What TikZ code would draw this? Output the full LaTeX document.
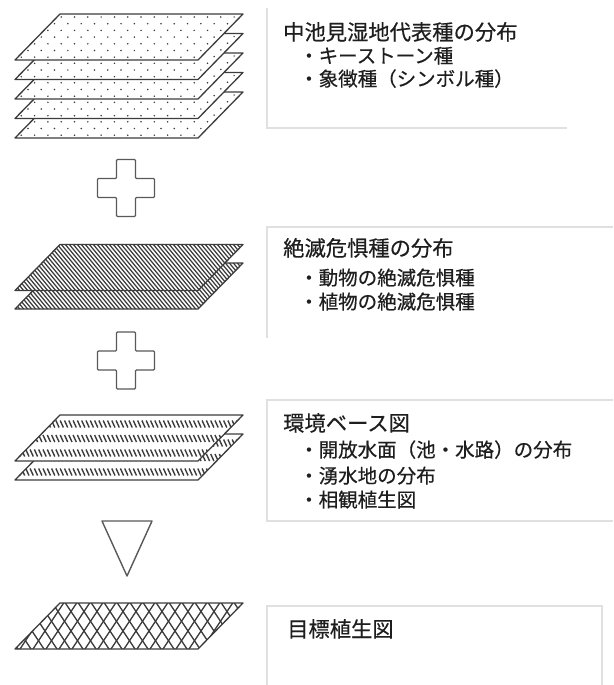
\documentclass[tikz,border=0pt]{standalone}
\usepackage{fontspec}
\newfontfamily\jp[FakeBold=0.4]{Noto Sans CJK JP}
\definecolor{edge}{HTML}{3C3C3C}
\definecolor{boxline}{HTML}{E0E0E0}
\definecolor{ink}{HTML}{1E1E1E}
\tikzset{
  sheetline/.style={draw=edge, line width=1.3pt, line join=round},
  hatchline/.style={draw=edge, line width=1.25pt},
  boxborder/.style={draw=boxline, line width=1.5pt},
  symb/.style={draw=edge!85, line width=1.4pt, line join=round},
  ttl/.style={anchor=base west, inner sep=0pt, font=\jp\fontsize{21.3}{24}\selectfont, text=ink},
  itm/.style={anchor=base west, inner sep=0pt, font=\jp\fontsize{19.5}{23}\selectfont, text=ink},
}
% fill patterns (argument: y of bottom edge of the sheet)
\newcommand{\patdots}[1]{%
  \foreach \r in {0,...,6}{\foreach \c in {0,...,18}{%
    \fill[edge] ({8+\c*13.3+mod(\r,2)*6.65},{#1-43+\r*6.7}) circle (0.85pt);}}}
\newcommand{\pathatch}[1]{%
  \foreach \c in {-50,-46,...,250}{%
    \draw[hatchline] (\c,{#1-50}) -- ({\c+54/1.2},{#1+4});}}
\newcommand{\patdash}[1]{%
  \foreach \yy in {9,23.5,38}{\foreach \c in {0,4.3,...,250}{%
    \draw[hatchline, line width=1.4pt] (\c,{#1-46+\yy-3.5}) -- ({\c+3.2},{#1-46+\yy+3.5});}}}
\newcommand{\patcross}[1]{%
  \foreach \c in {-40,-27,...,260}{%
    \draw[hatchline, line width=1.35pt] (\c,{#1-48}) -- ({\c+50/1.5},{#1+2});
    \draw[hatchline, line width=1.35pt] ({\c+40},{#1-48}) -- ({\c+40-50/1.5},{#1+2});}}
% one sheet: #1 = bottom y, #2 = pattern name
\newcommand{\drawsheet}[2]{%
  \fill[white] (15,#1) -- (198,#1) -- (243,{#1-46}) -- (60,{#1-46}) -- cycle;
  \begin{scope}
    \clip (15,#1) -- (198,#1) -- (243,{#1-46}) -- (60,{#1-46}) -- cycle;
    \csname pat#2\endcsname{#1}
  \end{scope}
  \draw[sheetline] (15,#1) -- (198,#1) -- (243,{#1-46}) -- (60,{#1-46}) -- cycle;}
\newcommand{\plussign}[2]{%
  \draw[symb, rounded corners=1pt] (#1-9.5,#2-28.5) -- (#1+9.5,#2-28.5) -- (#1+9.5,#2-9.5) -- (#1+28.5,#2-9.5)
    -- (#1+28.5,#2+9.5) -- (#1+9.5,#2+9.5) -- (#1+9.5,#2+28.5) -- (#1-9.5,#2+28.5) -- (#1-9.5,#2+9.5)
    -- (#1-28.5,#2+9.5) -- (#1-28.5,#2-9.5) -- (#1-9.5,#2-9.5) -- cycle;}
\begin{document}
\begin{tikzpicture}[x=1pt, y=-1pt]
  \fill[white] (0,0) rectangle (613,685);
  \useasboundingbox (0,0) rectangle (613,685);

  % text box borders
  \draw[boxborder] (267,8) -- (267,128) -- (567,128);
  \draw[boxborder] (613,227) -- (267,227) -- (267,338);
  \draw[boxborder] (613,400) -- (267,400) -- (267,521) -- (613,521);
  \draw[boxborder] (267,685) -- (267,606) -- (602,606) -- (602,685);

  % group 1: dotted layers
  \drawsheet{138}{dots}
  \drawsheet{118.5}{dots}
  \drawsheet{99}{dots}
  \drawsheet{79.5}{dots}
  \drawsheet{60}{dots}

  \plussign{126}{188}

  % group 2: hatched layers
  \drawsheet{309}{hatch}
  \drawsheet{290.5}{hatch}

  \plussign{126}{360.5}

  % group 3: dashed-row layers
  \drawsheet{480}{dash}
  \drawsheet{461}{dash}

  % triangle
  \draw[symb] (102,521) -- (152,521) -- (127,576) -- cycle;

  % group 4: cross-hatched layer
  \drawsheet{649}{cross}

  % texts
  \node[ttl] (t1) at (283,40) {中池見湿地代表種の分布};
  \node[itm] (t1a) at (299,63) {・キーストーン種};
  \node[itm] (t1b) at (299,86) {・象徴種（シンボル種）};
  \node[ttl] (t2) at (283,256) {絶滅危惧種の分布};
  \node[itm] (t2a) at (299,285) {・動物の絶滅危惧種};
  \node[itm] (t2b) at (299,309) {・植物の絶滅危惧種};
  \node[ttl] (t3) at (283,431) {環境ベース図};
  \node[itm] (t3a) at (299,457) {・開放水面（池・水路）の分布};
  \node[itm] (t3b) at (299,483) {・湧水地の分布};
  \node[itm] (t3c) at (299,507) {・相観植生図};
  \node[ttl] (t4) at (287,637) {目標植生図};
\end{tikzpicture}
\end{document}
